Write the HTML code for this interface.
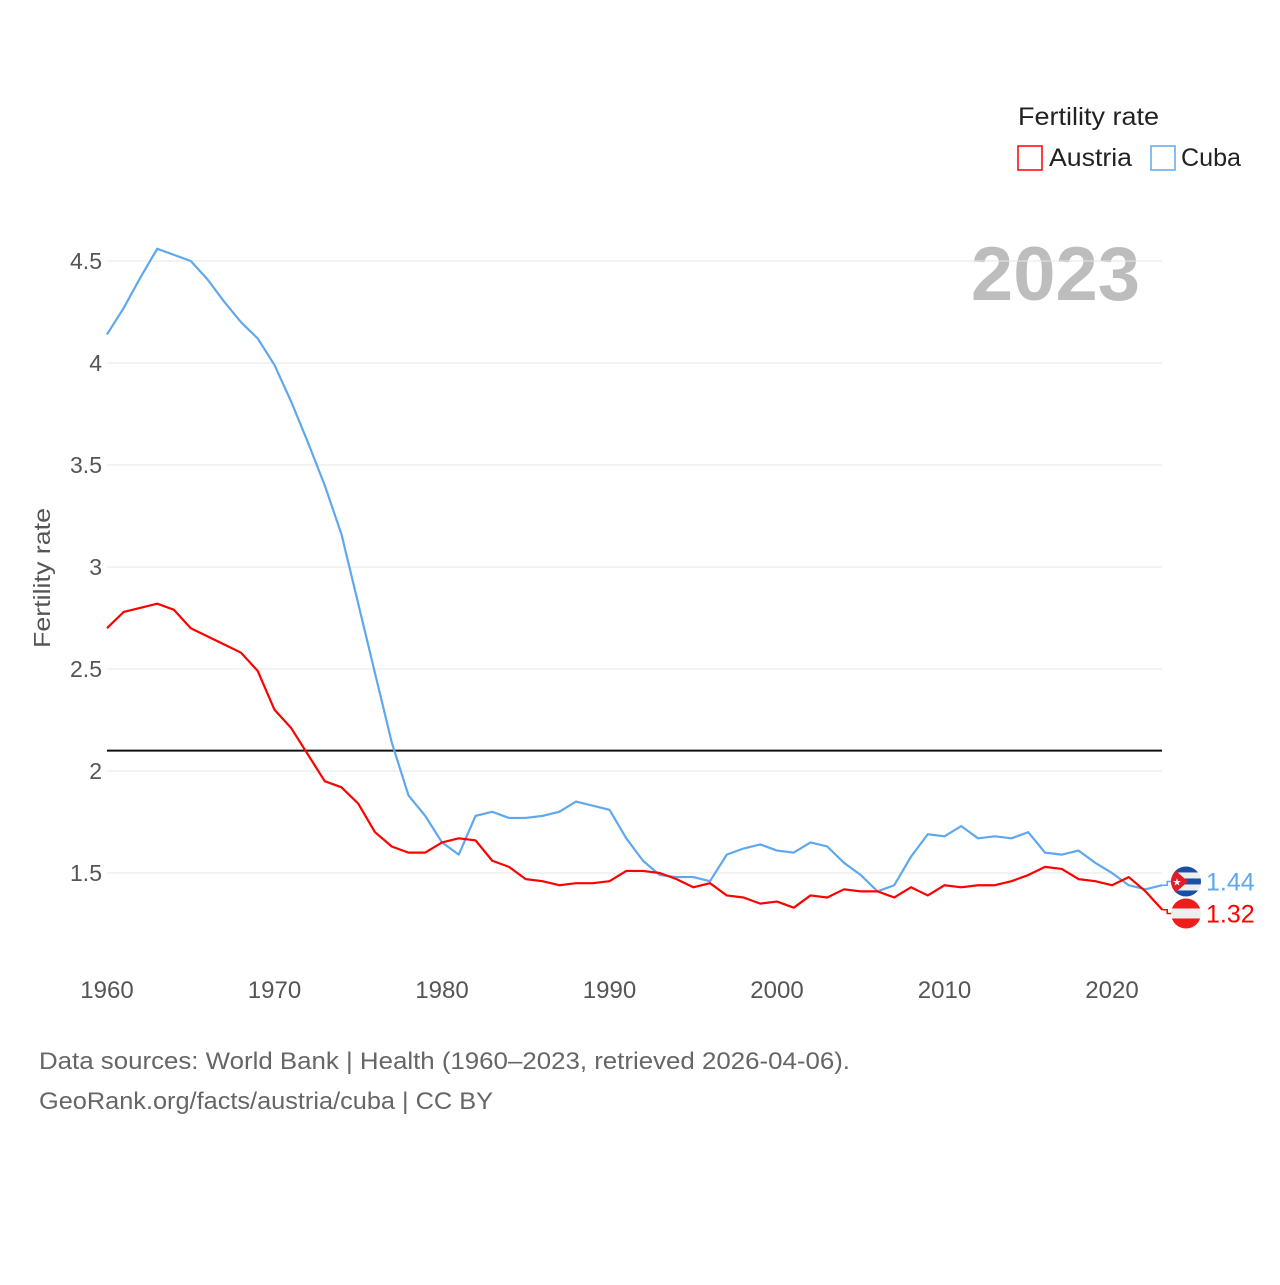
<!DOCTYPE html>
<html><head><meta charset="utf-8"><style>
html,body{margin:0;padding:0;background:#fff;}
body{width:1280px;height:1280px;overflow:hidden;font-family:"Liberation Sans",sans-serif;}
</style></head><body>
<svg id="chart" width="1280" height="1280" xmlns="http://www.w3.org/2000/svg" font-family="Liberation Sans, sans-serif">
<text x="1018" y="125" font-size="25" fill="#222" textLength="141" lengthAdjust="spacingAndGlyphs">Fertility rate</text>
<g><rect x="1018" y="146" width="24" height="24" fill="none" stroke="#f00" stroke-width="1.5"/><text x="1049" y="166" font-size="25" fill="#222" textLength="83" lengthAdjust="spacingAndGlyphs">Austria</text></g>
<g><rect x="1151" y="146" width="24" height="24" fill="none" stroke="#5fa8ee" stroke-width="1.5"/><text x="1181" y="166" font-size="25" fill="#222" textLength="60" lengthAdjust="spacingAndGlyphs">Cuba</text></g>
<text x="1140" y="300" font-size="76" font-weight="bold" fill="#bdbdbd" text-anchor="end">2023</text>
<text transform="translate(50,578) rotate(-90)" font-size="23" fill="#555" text-anchor="middle" textLength="140" lengthAdjust="spacingAndGlyphs">Fertility rate</text>
<g id="grid"></g><g id="yticks"></g><g id="xticks"></g>
<line id="repl" x1="107" x2="1162" stroke="#111" stroke-width="2"/>
<g id="series"></g>
<text x="39" y="1069" font-size="24" fill="#666" textLength="811" lengthAdjust="spacingAndGlyphs">Data sources: World Bank | Health (1960–2023, retrieved 2026-04-06).</text>
<text x="39" y="1109" font-size="24" fill="#666" textLength="454" lengthAdjust="spacingAndGlyphs">GeoRank.org/facts/austria/cuba | CC BY</text>
</svg>
<script>
const years=[];for(let y=1960;y<=2023;y++)years.push(y);
const cuba=[4.14,4.27,4.42,4.56,4.53,4.50,4.41,4.30,4.20,4.12,3.99,3.81,3.61,3.40,3.16,2.82,2.48,2.14,1.88,1.78,1.65,1.59,1.78,1.80,1.77,1.77,1.78,1.80,1.85,1.83,1.81,1.67,1.56,1.49,1.48,1.48,1.46,1.59,1.62,1.64,1.61,1.60,1.65,1.63,1.55,1.49,1.41,1.44,1.58,1.69,1.68,1.73,1.67,1.68,1.67,1.70,1.60,1.59,1.61,1.55,1.50,1.44,1.42,1.44];
const austria=[2.70,2.78,2.80,2.82,2.79,2.70,2.66,2.62,2.58,2.49,2.30,2.21,2.08,1.95,1.92,1.84,1.70,1.63,1.60,1.60,1.65,1.67,1.66,1.56,1.53,1.47,1.46,1.44,1.45,1.45,1.46,1.51,1.51,1.50,1.47,1.43,1.45,1.39,1.38,1.35,1.36,1.33,1.39,1.38,1.42,1.41,1.41,1.38,1.43,1.39,1.44,1.43,1.44,1.44,1.46,1.49,1.53,1.52,1.47,1.46,1.44,1.48,1.41,1.32];
const yTicks=[1.5,2,2.5,3,3.5,4,4.5];
const yTickLabels=["1.5","2","2.5","3","3.5","4","4.5"];
const xTicks=[1960,1970,1980,1990,2000,2010,2020];
const replacement=2.1;
const X=y=>107+(y-1960)*16.75;
const Y=v=>873-(v-1.5)*204;
const NS="http://www.w3.org/2000/svg";
function mk(tag,parent,attrs){const e=document.createElementNS(NS,tag);for(const k in attrs)e.setAttribute(k,attrs[k]);parent.appendChild(e);return e;}
const grid=document.getElementById('grid'),yt=document.getElementById('yticks'),xt=document.getElementById('xticks'),ser=document.getElementById('series');
yTicks.forEach((v,i)=>{
 const l=mk('line',grid,{x1:107,x2:1162,y1:Y(v),y2:Y(v),stroke:'#e6e6e6','stroke-width':1});
 
 
 const t=mk('text',yt,{x:102,y:Y(v)+8,'font-size':23,fill:'#555','text-anchor':'end'});t.textContent=yTickLabels[i];
 
 
});
xTicks.forEach(v=>{
 const t=mk('text',xt,{x:X(v),y:998,'font-size':24,fill:'#555','text-anchor':'middle'});t.textContent=v;
 
 
});
const r=document.getElementById('repl');r.setAttribute('y1',Y(replacement));r.setAttribute('y2',Y(replacement));
function line(data,color,name){
 const p=mk('polyline',ser,{points:data.map((v,i)=>X(years[i])+','+Y(v)).join(' '),fill:'none',stroke:color,'stroke-width':2.2,'stroke-linejoin':'round'});
 
 
}
line(cuba,'#5fa8ee','cuba-line');
line(austria,'#f00','austria-line');
const cv=cuba[cuba.length-1],av=austria[austria.length-1];
let cy=Y(cv),ay=Y(av);
if(ay-cy<32){const m=(cy+ay)/2;cy=m-16;ay=m+16;}
const lx=X(2023);
mk('polyline',ser,{points:`${lx},${Y(cv)} ${lx+5},${Y(cv)} ${lx+5},${cy} ${lx+12},${cy}`,fill:'none',stroke:'#5fa8ee','stroke-width':1.5});
mk('polyline',ser,{points:`${lx},${Y(av)} ${lx+5},${Y(av)} ${lx+5},${ay} ${lx+12},${ay}`,fill:'none',stroke:'#f00','stroke-width':1.5});
const fc=mk('g',ser,{});


const cx=1186;
mk('defs',fc,{}).innerHTML=`<clipPath id="cc"><circle cx="${cx}" cy="${cy}" r="15"/></clipPath><clipPath id="ca"><circle cx="${cx}" cy="${ay}" r="15"/></clipPath>`;
const gc=mk('g',fc,{'clip-path':'url(#cc)'});
for(let i=0;i<5;i++)mk('rect',gc,{x:cx-15,y:cy-15+i*6,width:30,height:6,fill:i%2?'#eee':'#1a4fa8'});
mk('polygon',gc,{points:`${cx-15},${cy-15} ${cx+2},${cy} ${cx-15},${cy+15}`,fill:'#e01e2a'});
mk('text',gc,{x:cx-9,y:cy+4,'font-size':10,fill:'#fff','text-anchor':'middle'}).textContent='★';
const fa=mk('g',ser,{'clip-path':'url(#ca)'});


mk('rect',fa,{x:cx-15,y:ay-15,width:30,height:10,fill:'#f01b1b'});
mk('rect',fa,{x:cx-15,y:ay-5,width:30,height:10,fill:'#eee'});
mk('rect',fa,{x:cx-15,y:ay+5,width:30,height:10,fill:'#f01b1b'});
const tc=mk('text',ser,{x:1206,y:cy+9,'font-size':25,fill:'#5fa8ee'});tc.textContent=cv.toFixed(2);


const ta=mk('text',ser,{x:1206,y:ay+9,'font-size':25,fill:'#f00'});ta.textContent=av.toFixed(2);


</script>
</body></html>
